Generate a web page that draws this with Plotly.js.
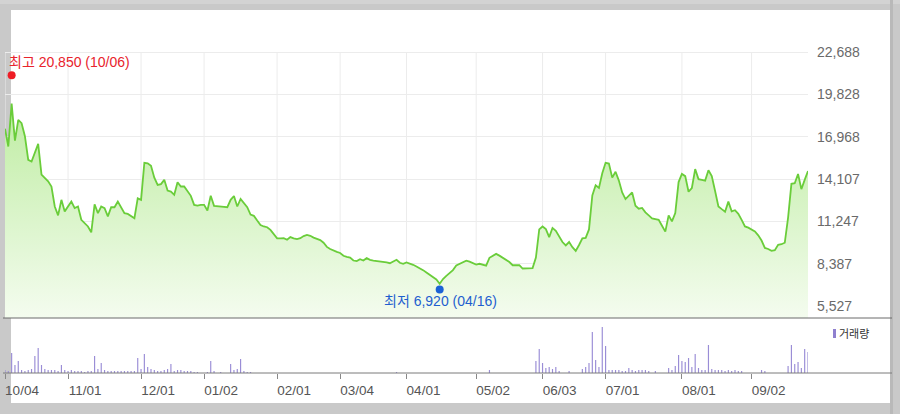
<!DOCTYPE html>
<html>
<head>
<meta charset="utf-8">
<script src="https://cdn.plot.ly/plotly-3.0.1.min.js"></script>
<style>
html,body{margin:0;padding:0;width:900px;height:414px;overflow:hidden;background:#c9c9c9;}
#frame{position:absolute;left:11px;top:10px;width:879px;height:393px;background:#ffffff;}
#topband{position:absolute;left:0;top:0;width:900px;height:4px;background:#d3d3d3;}
#rightband{position:absolute;left:890px;top:0;width:3px;height:414px;background:#b9b9b9;}
#chart{position:absolute;left:0;top:0;width:900px;height:414px;}
</style>
</head>
<body>
<div id="topband"></div>
<div id="frame"></div>
<div id="rightband"></div>
<div id="chart"></div>
<script>
// ---- data ----
// daily closing prices, 2023-10-04 .. 2024-09-30 (trading days)
const price = [
  17500,16300,19200,16700,18100,17880,17000,15400,15290,15850,
  16480,14400,14200,13950,13600,12250,11650,12700,11920,12250,
  12580,12140,12250,11350,11150,10900,10500,12400,11800,12250,
  12140,11580,12200,12200,12580,12140,11800,11750,11620,11460,
  12800,12700,15200,15170,15000,14200,13710,13760,14050,13330,
  13260,13040,13890,13600,13600,13260,12970,12360,12310,12360,
  12360,11980,12980,12290,12250,12250,12220,12200,12700,12960,
  12250,12760,12500,12200,11700,11620,11300,11000,10900,10850,
  10670,10400,10100,10100,10110,10000,10180,10100,10050,10110,
  10250,10330,10270,10150,10080,9980,9800,9520,9380,9270,
  9180,9110,8920,8850,8800,8600,8560,8690,8600,8760,
  8650,8600,8580,8560,8530,8480,8420,8550,8650,8450,
  8380,8470,8400,8310,8200,8090,7950,7790,7640,7520,
  7320,7030,7350,7560,7780,7950,8270,8380,8450,8590,
  8520,8420,8330,8380,8300,8250,8780,8920,9050,8930,
  8800,8650,8500,8280,8270,8290,8060,8060,8080,8090,
  8800,10700,10900,10720,10180,10800,10600,10200,9850,9620,
  9850,9500,9250,9650,10100,10130,10700,13000,13680,13500,
  14500,15200,15150,14200,14600,14000,13200,12750,13000,13200,
  12300,12100,12150,11850,11650,11450,11400,11350,10950,10550,
  11650,11240,11800,13900,14450,14300,13250,13500,14780,14100,
  14050,14000,14700,14300,13300,12250,12070,11900,12580,11920,
  12000,11750,11350,10900,10820,10700,10560,10300,9950,9450,
  9380,9250,9300,9660,9700,9800,11500,13780,13820,14450,
  13420,14050,14650
];
// relative daily volume (bar heights)
const volume = [
  3,2,20,8,12,3,2,3,4,17,
  25,8,4,3,3,3,2,8,3,2,
  3,2,2,2,1,2,2,17,4,10,
  3,2,2,2,2,2,2,2,2,2,
  15,4,19,6,4,3,2,2,3,4,
  9,2,3,3,2,2,2,1,1,0,
  0,1,12,2,0,1,0,0,9,3,
  4,14,2,1,1,0,0,0,0,0,
  0,0,0,0,0,0,0,0,0,0,
  0,0,0,0,0,0,0,0,0,0,
  0,0,0,0,0,0,0,0,0,0,
  0,0,0,0,0,0,0,0,1,0,
  0,0,0,0,0,0,0,0,0,0,
  0,0,0,0,0,0,0,0,0,0,
  0,0,0,0,0,0,3,0,0,0,
  0,0,0,0,0,0,0,0,0,0,
  12,24,10,5,6,4,6,2,0,0,
  2,0,0,0,4,6,10,41,13,6,
  46,27,3,3,3,3,2,2,5,3,
  2,3,3,3,2,0,2,0,0,0,
  5,3,7,18,12,11,15,6,19,5,
  3,3,28,4,3,3,3,2,3,2,
  3,2,2,0,0,0,0,0,3,2,
  0,0,0,0,0,0,7,28,9,11,
  5,24,21
];
const tickIndex = [0,19,41,60,82,101,121,142,162,181,204,225];
const tickLabels = ["10/04","11/01","12/01","01/02","02/01","03/04","04/01","05/02","06/03","07/01","08/01","09/02"];
const priceTicks = [5527,8387,11247,14107,16968,19828,22688];
const high = {idx:2, value:20850, text:"최고 20,850 (10/06)"};
const low = {idx:131, value:6920, text:"최저 6,920 (04/16)"};
const volumeLabel = "거래량";

// ---- layout geometry ----
const L = 5, R = 808, T = 10, B = 373;
const pw = R - L, ph = B - T;
const px = v => (v - L) / pw;
const py = v => (B - v) / ph;
const priceRange = [4716.2, 25525.6];
const FONT = "'Liberation Sans', 'Noto Sans CJK KR', Arial, sans-serif";

const xs = price.map((_, i) => i);

const traces = [
  {
    type: 'scatter', mode: 'lines', x: xs, y: price, xaxis: 'x', yaxis: 'y',
    line: {color: '#6acd3a', width: 1.8},
    fill: 'tozeroy',
    fillgradient: {type: 'vertical', start: priceRange[0], stop: 19500,
      colorscale: [[0, '#f4fcef'], [1, '#bdeca0']]},
    hoverinfo: 'skip', showlegend: false
  },
  {
    type: 'bar', x: xs, y: volume, xaxis: 'x2', yaxis: 'y2',
    marker: {color: '#9a8dd6', line: {width: 0}}, width: 0.35,
    hoverinfo: 'skip', showlegend: false
  }
];

const shapes = [];
tickIndex.forEach(i => {
  shapes.push({type: 'line', xref: 'x', yref: 'y', x0: i, x1: i, y0: priceRange[0], y1: 22688,
    line: {color: '#ececec', width: 1}, layer: 'below'});
});
shapes.push({type: 'line', xref: 'paper', yref: 'paper', x0: px(3), x1: px(892), y0: py(318), y1: py(318),
  line: {color: '#6b6b6b', width: 1}});
shapes.push({type: 'line', xref: 'paper', yref: 'paper', x0: px(3), x1: px(892), y0: py(373), y1: py(373),
  line: {color: '#7a7a7a', width: 1}});
shapes.push({type: 'rect', xref: 'paper', yref: 'paper', x0: px(833), x1: px(836), y0: py(338), y1: py(329),
  fillcolor: '#8f80cf', line: {width: 0}});
shapes.push({type: 'circle', xref: 'x', yref: 'y', xsizemode: 'pixel', ysizemode: 'pixel',
  xanchor: high.idx, yanchor: high.value, x0: -4, x1: 4, y0: 0, y1: 8,
  fillcolor: '#ee1c25', line: {width: 0}});
shapes.push({type: 'circle', xref: 'x', yref: 'y', xsizemode: 'pixel', ysizemode: 'pixel',
  xanchor: low.idx, yanchor: low.value, x0: -4, x1: 4, y0: -8, y1: 0,
  fillcolor: '#1b62d6', line: {width: 0}});

const annotations = [
  {xref: 'x', yref: 'y', x: high.idx, y: high.value, text: high.text, showarrow: false,
   xanchor: 'left', yanchor: 'middle', xshift: -5, yshift: 17,
   font: {family: FONT, size: 14, color: '#e8232c'}},
  {xref: 'x', yref: 'y', x: low.idx, y: low.value, text: low.text, showarrow: false,
   xanchor: 'center', yanchor: 'middle', xshift: 1, yshift: -16,
   font: {family: FONT, size: 14, color: '#1e5fcf'}},
  {xref: 'paper', yref: 'paper', x: px(837), y: py(334), text: volumeLabel, showarrow: false,
   xanchor: 'left', yanchor: 'middle', font: {family: FONT, size: 11, color: '#333333'}}
];

const layout = {
  width: 900, height: 414,
  margin: {l: L, r: 900 - R, t: T, b: 414 - B, pad: 0},
  paper_bgcolor: 'rgba(0,0,0,0)', plot_bgcolor: 'rgba(0,0,0,0)',
  font: {family: FONT},
  showlegend: false,
  xaxis: {domain: [0, 1], range: [0, price.length - 1], anchor: 'y', showticklabels: false,
    showgrid: false, zeroline: false, showline: false, ticks: '', fixedrange: true},
  xaxis2: {domain: [0, 1], range: [0, price.length - 1], anchor: 'y2', tickmode: 'array',
    tickvals: tickIndex, ticktext: tickLabels, ticks: 'outside', ticklen: 5, tickcolor: '#888',
    tickwidth: 1, ticklabelshift: 17,
    tickfont: {family: FONT, size: 13.5, color: '#555555'},
    showgrid: false, zeroline: false, showline: false},
  yaxis: {domain: [py(318), 1], range: priceRange, anchor: 'x', side: 'right',
    tickmode: 'array', tickvals: priceTicks, tickformat: ',d', ticks: '',
    ticklabelstandoff: 8,
    tickfont: {family: FONT, size: 14, color: '#6a6a6a'},
    gridcolor: '#ececec', gridwidth: 1, zeroline: false, showline: false},
  yaxis2: {domain: [0, py(323)], range: [0, 50], anchor: 'x2', visible: false},
  shapes: shapes,
  annotations: annotations
};

Plotly.newPlot('chart', traces, layout, {displayModeBar: false, staticPlot: true});
</script>
</body>
</html>
